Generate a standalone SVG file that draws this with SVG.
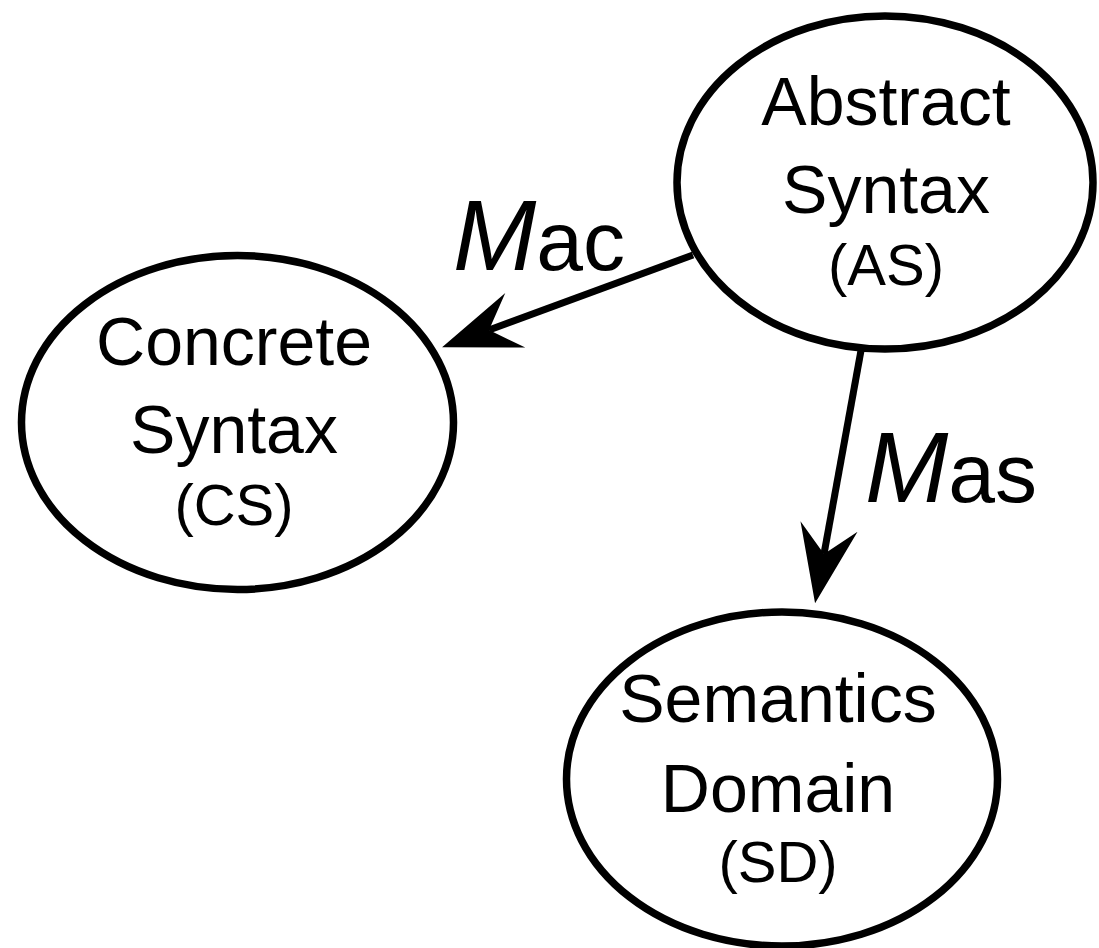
<svg xmlns="http://www.w3.org/2000/svg" width="1099" height="948" viewBox="0 0 1099 948">
  <style>
    .node ellipse { fill: #ffffff; stroke: #000000; stroke-width: 7.5; }
    .name { font-family: "Liberation Sans", Arial, Helvetica, sans-serif; font-size: 68px; fill: #000000; text-anchor: middle; }
    .abbr { font-family: "Liberation Sans", Arial, Helvetica, sans-serif; font-size: 58px; fill: #000000; text-anchor: middle; }
    .edge { stroke: #000000; stroke-width: 7; fill: none; }
    .label { font-family: "Liberation Sans", Arial, Helvetica, sans-serif; fill: #000000; }
    .label .m { font-style: italic; font-size: 100px; }
    .label .sub { font-size: 84px; }
  </style>
  <defs>
    <!-- notched arrowhead; origin sits at the notch where the shaft ends -->
    <marker id="arrow" markerUnits="userSpaceOnUse" viewBox="-30 -31 82 62" markerWidth="82" markerHeight="62" refX="0" refY="0" orient="auto" overflow="visible">
      <path d="M50,0 L-28,-29 L0,0 L-28,29 Z" fill="#000000"/>
    </marker>
  </defs>

  <g id="connectors">
    <line class="edge" x1="693" y1="255" x2="489" y2="330" marker-end="url(#arrow)"/>
    <line class="edge" x1="862" y1="345" x2="824" y2="554" marker-end="url(#arrow)"/>
    <text class="label" x="453" y="270"><tspan class="m">M</tspan><tspan class="sub">ac</tspan></text>
    <text class="label" x="865" y="502"><tspan class="m">M</tspan><tspan class="sub">as</tspan></text>
  </g>

  <g id="abstract-syntax" class="node">
    <ellipse cx="885" cy="182.5" rx="208" ry="166.5"/>
    <text class="name" x="886" y="125">Abstract</text>
    <text class="name" x="886" y="213">Syntax</text>
    <text class="abbr" x="886" y="285">(AS)</text>
  </g>

  <g id="concrete-syntax" class="node">
    <ellipse cx="237.5" cy="422.5" rx="216" ry="167"/>
    <text class="name" x="234" y="365">Concrete</text>
    <text class="name" x="234" y="453">Syntax</text>
    <text class="abbr" x="234" y="525">(CS)</text>
  </g>

  <g id="semantics-domain" class="node">
    <ellipse cx="782" cy="779" rx="215.5" ry="167"/>
    <text class="name" x="778" y="722">Semantics</text>
    <text class="name" x="778" y="812">Domain</text>
    <text class="abbr" x="778" y="882">(SD)</text>
  </g>
</svg>
